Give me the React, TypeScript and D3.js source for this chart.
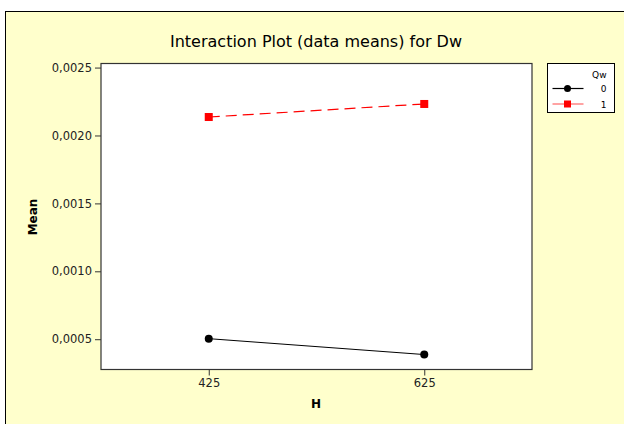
import React, { useEffect, useRef } from "react";
import * as d3 from "d3";

const levelsH = ["425", "625"];
const seriesQw = ["0", "1"];
const means0 = [0.000504, 0.000387];
const means1 = [0.002136, 0.002232];
const yTicks = [0.0005, 0.001, 0.0015, 0.002, 0.0025];

const W = 624;
const H = 424;

const App = () => {
  const svgRef = useRef(null);

  useEffect(() => {
    const svg = d3.select(svgRef.current);
    svg.selectAll("*").remove();

    const font = "'DejaVu Sans', Tahoma, sans-serif";
    const plot = { left: 101, right: 532, top: 63.5, bottom: 369.5 };

    // fondo
    svg.append("rect").attr("width", W).attr("height", H).attr("fill", "#ffffff");
    svg
      .append("rect")
      .attr("x", 5.5)
      .attr("y", 11.5)
      .attr("width", W)
      .attr("height", H)
      .attr("fill", "#ffffcc")
      .attr("stroke", "#000");

    const x = d3
      .scalePoint()
      .domain(levelsH)
      .range([plot.left, plot.right])
      .padding(0.5);

    const y = d3
      .scaleLinear()
      .domain([0.000277, 0.00253])
      .range([plot.bottom, plot.top]);

    svg
      .append("rect")
      .attr("x", plot.left)
      .attr("y", plot.top)
      .attr("width", plot.right - plot.left)
      .attr("height", plot.bottom - plot.top)
      .attr("fill", "#fff")
      .attr("stroke", "#333")
      .attr("stroke-width", 1.2);

    // titulo
    svg
      .append("text")
      .attr("x", 316)
      .attr("y", 47)
      .attr("text-anchor", "middle")
      .attr("font-family", font)
      .attr("font-size", 16)
      .attr("fill", "#000")
      .text("Interaction Plot (data means) for Dw");

    // eje Y
    const fmt = (d) => d3.format(".4f")(d).replace(".", ",");
    const yAxis = svg
      .append("g")
      .attr("transform", `translate(${plot.left},0)`)
      .call(d3.axisLeft(y).tickValues(yTicks).tickSize(6).tickPadding(3).tickFormat(fmt));
    yAxis.select(".domain").remove();
    yAxis.selectAll("line").attr("stroke", "#333");
    yAxis
      .selectAll("text")
      .attr("font-family", font)
      .attr("font-size", 11.5)
      .attr("fill", "#222");

    // eje X
    const xAxis = svg
      .append("g")
      .attr("transform", `translate(0,${plot.bottom})`)
      .call(d3.axisBottom(x).tickSize(6).tickPadding(3));
    xAxis.select(".domain").remove();
    xAxis.selectAll("line").attr("stroke", "#333");
    xAxis
      .selectAll("text")
      .attr("font-family", font)
      .attr("font-size", 11.5)
      .attr("fill", "#222");

    svg
      .append("text")
      .attr("x", 316)
      .attr("y", 408)
      .attr("text-anchor", "middle")
      .attr("font-family", font)
      .attr("font-size", 12)
      .attr("font-weight", "bold")
      .text("H");

    svg
      .append("text")
      .attr("transform", `translate(37,217) rotate(-90)`)
      .attr("text-anchor", "middle")
      .attr("font-family", font)
      .attr("font-size", 12)
      .attr("font-weight", "bold")
      .text("Mean");

    // series
    const line = d3
      .line()
      .x((d, i) => x(levelsH[i]))
      .y((d) => y(d));

    svg
      .append("path")
      .datum(means0)
      .attr("d", line)
      .attr("fill", "none")
      .attr("stroke", "#000")
      .attr("stroke-width", 1);

    svg
      .selectAll(".pt0")
      .data(means0)
      .enter()
      .append("circle")
      .attr("cx", (d, i) => x(levelsH[i]))
      .attr("cy", (d) => y(d))
      .attr("r", 4)
      .attr("fill", "#000");

    svg
      .append("path")
      .datum(means1)
      .attr("d", line)
      .attr("fill", "none")
      .attr("stroke", "#ff0000")
      .attr("stroke-width", 1.2)
      .attr("stroke-dasharray", "11,6");

    svg
      .selectAll(".pt1")
      .data(means1)
      .enter()
      .append("rect")
      .attr("x", (d, i) => x(levelsH[i]) - 4)
      .attr("y", (d) => y(d) - 4)
      .attr("width", 8)
      .attr("height", 8)
      .attr("fill", "#ff0000");

    // leyenda
    const lg = svg.append("g").attr("transform", "translate(547.5,63.5)");
    lg.append("rect")
      .attr("width", 67)
      .attr("height", 49)
      .attr("fill", "#fff")
      .attr("stroke", "#000");
    lg.append("text")
      .attr("x", 59)
      .attr("y", 14)
      .attr("text-anchor", "end")
      .attr("font-family", font)
      .attr("font-size", 9)
      .text("Qw");

    seriesQw.forEach((s, i) => {
      const yy = 25 + i * 15.5;
      lg.append("line")
        .attr("x1", 5)
        .attr("x2", 36)
        .attr("y1", yy)
        .attr("y2", yy)
        .attr("stroke", i === 0 ? "#000" : "#ff6666")
        .attr("stroke-width", 1.2);
      if (i === 0) {
        lg.append("circle").attr("cx", 20).attr("cy", yy).attr("r", 3.5).attr("fill", "#000");
      } else {
        lg.append("rect")
          .attr("x", 16.5)
          .attr("y", yy - 3.5)
          .attr("width", 7)
          .attr("height", 7)
          .attr("fill", "#ff0000");
      }
      lg.append("text")
        .attr("x", 59)
        .attr("y", yy + 3.5)
        .attr("text-anchor", "end")
        .attr("font-family", font)
        .attr("font-size", 9)
        .text(s);
    });
  }, []);

  return (
    <svg
      ref={svgRef}
      width={W}
      height={H}
      style={{ position: "absolute", left: 0, top: 0, display: "block" }}
    />
  );
};

export default App;
